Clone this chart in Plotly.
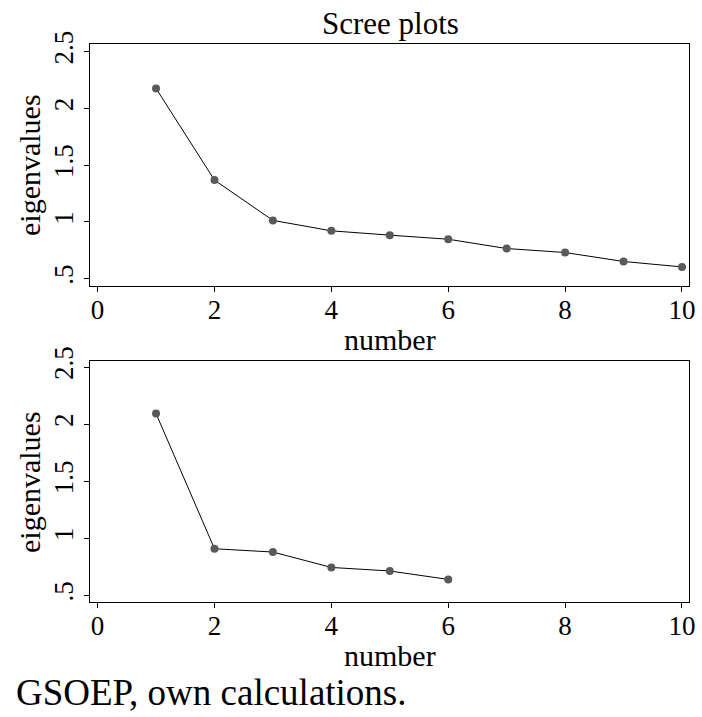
import plotly.graph_objects as go

# Data
components_top = [1, 2, 3, 4, 5, 6, 7, 8, 9, 10]
eigen_top = [2.177, 1.369, 1.014, 0.922, 0.884, 0.848, 0.766, 0.731, 0.652, 0.604]
components_bottom = [1, 2, 3, 4, 5, 6]
eigen_bottom = [2.094, 0.909, 0.880, 0.745, 0.714, 0.640]

x_ticks = [0, 2, 4, 6, 8, 10]
y_ticks = [0.5, 1, 1.5, 2, 2.5]
y_ticktext = [".5", "1", "1.5", "2", "2.5"]

FONT = "Liberation Serif"
W, H = 702, 717

def px_x(p):
    return p / W

def px_y(p):
    return 1 - p / H

fig = go.Figure()

line_style = dict(color="black", width=1)
marker_style = dict(color="#5a5a5a", size=8)

fig.add_trace(go.Scatter(x=components_top, y=eigen_top, mode="lines+markers",
                         line=line_style, marker=marker_style,
                         xaxis="x", yaxis="y", showlegend=False))
fig.add_trace(go.Scatter(x=components_bottom, y=eigen_bottom, mode="lines+markers",
                         line=line_style, marker=marker_style,
                         xaxis="x2", yaxis="y2", showlegend=False))

xdom = [px_x(90), px_x(689)]
axis_common = dict(showline=True, linecolor="black", linewidth=1, mirror=True,
                   ticks="outside", ticklen=5, tickwidth=1, tickcolor="black",
                   showgrid=False, zeroline=False, automargin=False,
                   tickfont=dict(family=FONT, size=27, color="black"))

fig.update_layout(
    template="none",
    width=W, height=H,
    margin=dict(l=0, r=0, t=0, b=0),
    paper_bgcolor="white", plot_bgcolor="white",
    xaxis=dict(domain=xdom, anchor="y", range=[-0.13, 10.12],
               tickvals=x_ticks, ticklabelstandoff=-5, **axis_common),
    yaxis=dict(domain=[px_y(286), px_y(44)], anchor="x", range=[0.436, 2.568],
               tickvals=y_ticks, ticktext=y_ticktext, tickangle=-90, **axis_common),
    xaxis2=dict(domain=xdom, anchor="y2", range=[-0.13, 10.12],
                tickvals=x_ticks, ticklabelstandoff=-5, **axis_common),
    yaxis2=dict(domain=[px_y(602), px_y(361)], anchor="x2", range=[0.442, 2.555],
                tickvals=y_ticks, ticktext=y_ticktext, tickangle=-90, **axis_common),
)

ann_font = dict(family=FONT, size=30, color="black")
annotations = [
    dict(text="Scree plots", x=px_x(390), y=px_y(23), font=dict(family=FONT, size=31, color="black")),
    dict(text="number", x=px_x(390), y=px_y(339), font=ann_font),
    dict(text="number", x=px_x(390), y=px_y(655), font=ann_font),
    dict(text="eigenvalues", x=px_x(29), y=px_y(165), textangle=-90, font=ann_font),
    dict(text="eigenvalues", x=px_x(29), y=px_y(482), textangle=-90, font=ann_font),
]
for a in annotations:
    fig.add_annotation(xref="paper", yref="paper", showarrow=False,
                       xanchor="center", yanchor="middle", **a)

fig.add_annotation(text="GSOEP, own calculations.", xref="paper", yref="paper",
                   x=px_x(14), y=px_y(692), xanchor="left", yanchor="middle",
                   showarrow=False, font=dict(family=FONT, size=37, color="black"))

fig.write_html("out.html")
